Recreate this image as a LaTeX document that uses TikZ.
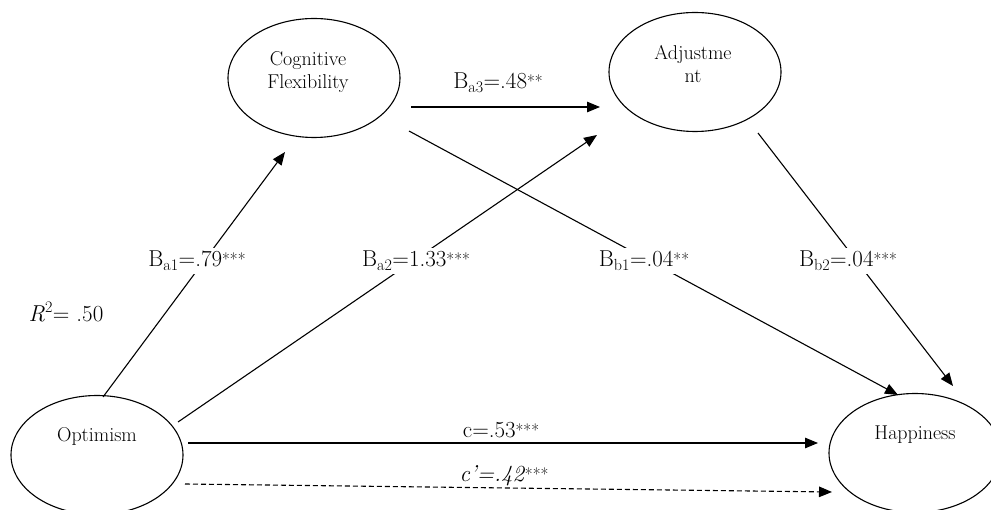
\documentclass[tikz,border=0pt]{standalone}
\usepackage{fontspec}
\usetikzlibrary{shapes.geometric,arrows.meta,calc}
\newcommand\sigstars[1]{\raisebox{1.5pt}{\fontsize{17}{17}\selectfont #1}}
\begin{document}
\begin{tikzpicture}[x=1pt,y=-1pt,
  latent/.style={draw, ellipse, line width=1.1pt, minimum width=172pt, minimum height=119pt, inner sep=0pt},
  vname/.style={font=\fontsize{20}{23}\selectfont, align=center, inner sep=0pt},
  coef/.style={font=\fontsize{23}{25}\selectfont, anchor=base, fill=white, inner sep=3pt},
  plain/.style={font=\fontsize{23}{25}\selectfont, anchor=base, inner sep=0pt},
  arr/.style={line width=1.1pt, -{Triangle[length=13pt,width=10.5pt]}},
  ]
\useasboundingbox (0,0) rectangle (991,510);
\clip (0,0) rectangle (991,510);

% latent variables
\node[latent] (cf)  at (314,78)  {};
\node[latent] (adj) at (695,72)  {};
\node[latent] (opt) at (97,455)  {};
\node[latent] (hap) at (915,453) {};

\node[vname] (cftext)  at (308,72)  {Cognitive\\Flexibility};
\node[vname] (adjtext) at (693,64)  {Adjustme\\nt};
\node[vname, anchor=base] (opttext) at (97,442) {Optimism};
\node[vname, anchor=base] (haptext) at (915,440) {Happiness};

% paths
\draw[arr] ($(opt)+(6,-58)$)  -- ($(cf)+(-29,74)$);
\draw[arr] ($(opt)+(81,-33)$) -- ($(adj)+(-98,63)$);
\draw[arr] ($(cf)+(97,29)$)   -- ($(adj)+(-95,35)$);
\draw[arr] ($(cf)+(95,53)$)   -- ($(hap)+(-17,-58)$);
\draw[arr] ($(adj)+(63,61)$)  -- ($(hap)+(38,-67)$);
\draw[arr] ($(opt)+(91,-12)$) -- ($(hap)+(-97,-10)$);
\draw[arr, dash pattern=on 5pt off 3pt] ($(opt)+(88,29)$) -- ($(hap)+(-83,39)$);

% coefficients
\node[coef] (la3) at (498,89)  {B\textsubscript{a3}=.48\sigstars{**}};
\node[coef] (la1) at (197,267) {B\textsubscript{a1}=.79\sigstars{***}};
\node[coef] (la2) at (416,267) {B\textsubscript{a2}=1.33\sigstars{***}};
\node[coef] (lb1) at (644,267) {B\textsubscript{b1}=.04\sigstars{**}};
\node[coef] (lb2) at (848,267) {B\textsubscript{b2}=.04\sigstars{***}};
\node[plain] (lc)  at (501,438) {c=.53\sigstars{***}};
\node[plain] (lcp) at (504,482) {\textit{c’=.42}\sigstars{***}};
\node[plain] (lr2) at (66,322)  {\textit{R}\textsuperscript{2}= .50};
\end{tikzpicture}
\end{document}
